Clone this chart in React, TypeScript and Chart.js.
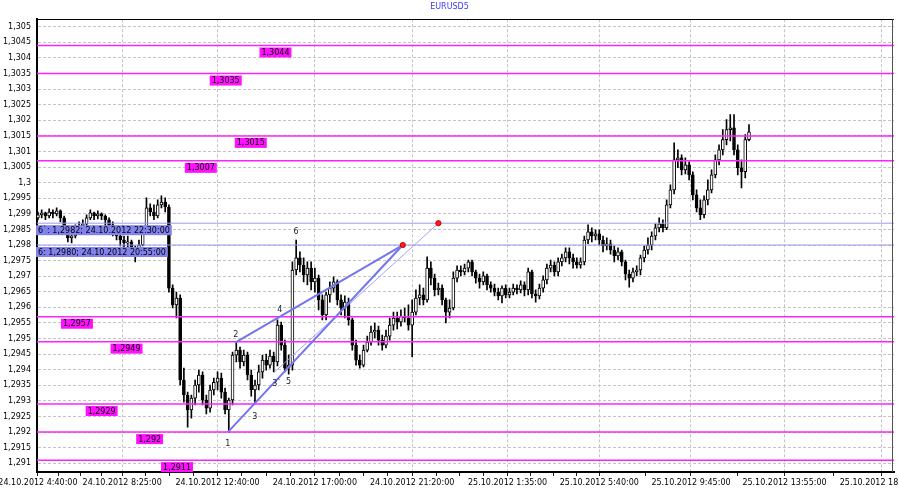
import React, { useEffect, useRef } from "react";
import { Chart, registerables } from "chart.js";

Chart.register(...registerables);

const TITLE = "EURUSD5";
const FONT = '"DejaVu Sans", sans-serif';

// each candle covers two 5-minute bars
const CANDLE_STEP_BARS = 2;

const OPENS = [
  1.29887, 1.29897, 1.29903, 1.29893, 1.29906, 1.299, 1.2991, 1.29887, 1.29855, 1.29823,
  1.29829, 1.29855, 1.29861, 1.29868, 1.29887, 1.29903, 1.29893, 1.299, 1.29893, 1.29881,
  1.29865, 1.29849, 1.29829, 1.29816, 1.29807, 1.2981, 1.29784, 1.29768, 1.298, 1.29842,
  1.29919, 1.29906, 1.29893, 1.29929, 1.29938, 1.29922, 1.29662, 1.29608, 1.2963, 1.29367,
  1.29319, 1.29271, 1.29309, 1.29351, 1.29383, 1.29303, 1.29277, 1.29335, 1.2936, 1.29373,
  1.29328, 1.29271, 1.29303, 1.29447, 1.29463, 1.29425, 1.29447, 1.29383, 1.29335, 1.29351,
  1.29393, 1.29431, 1.29415, 1.29444, 1.29425, 1.29543, 1.29479, 1.29405, 1.29415, 1.2972,
  1.29759, 1.29736, 1.29704, 1.29726, 1.29682, 1.29694, 1.29624, 1.29576, 1.2964, 1.29662,
  1.29682, 1.29624, 1.29598, 1.29617, 1.2956, 1.29479, 1.29431, 1.29415, 1.29463, 1.29489,
  1.29521, 1.29527, 1.29495, 1.29479, 1.29508, 1.29543, 1.29566, 1.29553, 1.29572, 1.29566,
  1.29543, 1.29585, 1.2963, 1.2964, 1.29624, 1.29726, 1.29694, 1.29656, 1.29662, 1.29624,
  1.29585, 1.29598, 1.29694, 1.2972, 1.29714, 1.29726, 1.29746, 1.29714, 1.29694, 1.29682,
  1.29701, 1.29672, 1.29662, 1.29649, 1.29637, 1.29662, 1.2964, 1.29649, 1.29662, 1.29656,
  1.29672, 1.29656, 1.29714, 1.29643, 1.29637, 1.29662, 1.29688, 1.29726, 1.29736, 1.29714,
  1.29746, 1.29759, 1.29778, 1.29759, 1.29746, 1.29736, 1.29746, 1.29816, 1.29842, 1.29829,
  1.29836, 1.29816, 1.29797, 1.29804, 1.29784, 1.29765, 1.29778, 1.29746, 1.29707, 1.29694,
  1.29714, 1.2972, 1.29759, 1.29784, 1.298, 1.29829, 1.29855, 1.29868, 1.29855, 1.29929,
  1.29977, 1.30073, 1.3008, 1.30041, 1.30057, 1.30025, 1.29961, 1.29919, 1.29897, 1.29945,
  1.29977, 1.30025, 1.30073, 1.30105, 1.30138, 1.3017, 1.30176, 1.30105, 1.30048, 1.30035,
  1.30138,
];

const HIGHS = [
  1.29906, 1.29913, 1.29906, 1.29916, 1.29913, 1.29919, 1.29913, 1.29893, 1.29861, 1.29842,
  1.29865, 1.29874, 1.29881, 1.29897, 1.29913, 1.29906, 1.2991, 1.29903, 1.29897, 1.29887,
  1.29874, 1.29855, 1.29842, 1.29829, 1.29829, 1.29816, 1.29797, 1.29816, 1.29855, 1.29951,
  1.29932, 1.29929, 1.29945, 1.29958, 1.29951, 1.29929, 1.29672, 1.29649, 1.2964, 1.29405,
  1.29328, 1.29319, 1.29367, 1.29399, 1.29393, 1.29319, 1.29351, 1.29373, 1.29393, 1.29389,
  1.29341, 1.29309, 1.29457, 1.29486, 1.29473, 1.29463, 1.29457, 1.29399, 1.29367, 1.29415,
  1.29447, 1.2945, 1.29463, 1.29457, 1.2956, 1.29553, 1.29495, 1.29447, 1.29746, 1.29816,
  1.29778, 1.29759, 1.29746, 1.29746, 1.29726, 1.29704, 1.2964, 1.29649, 1.29682, 1.29698,
  1.29688, 1.2964, 1.29637, 1.2963, 1.29566, 1.29495, 1.29447, 1.29479, 1.29508, 1.2954,
  1.2955, 1.2954, 1.29511, 1.29527, 1.29566, 1.29585, 1.29585, 1.29592, 1.29598, 1.29608,
  1.29624, 1.29656, 1.29672, 1.29662, 1.29762, 1.29746, 1.29707, 1.29678, 1.29672, 1.2963,
  1.29624, 1.29714, 1.29733, 1.29733, 1.29739, 1.29752, 1.29752, 1.2972, 1.29707, 1.29714,
  1.29707, 1.29682, 1.29675, 1.29662, 1.29669, 1.29672, 1.29662, 1.29675, 1.29672, 1.29685,
  1.29682, 1.29726, 1.2972, 1.29656, 1.29675, 1.29701, 1.29739, 1.29752, 1.29746, 1.29759,
  1.29771, 1.29791, 1.29791, 1.29771, 1.29759, 1.29759, 1.29829, 1.29865, 1.29855, 1.29849,
  1.29849, 1.29829, 1.29823, 1.29816, 1.29797, 1.29791, 1.29784, 1.29752, 1.2972, 1.29726,
  1.29733, 1.29768, 1.29797, 1.29823, 1.29842, 1.29868, 1.29887, 1.29881, 1.29945, 1.29993,
  1.30128, 1.30105, 1.30089, 1.3008, 1.30067, 1.30035, 1.29977, 1.29945, 1.29958, 1.30009,
  1.30041, 1.30089, 1.30121, 1.3017, 1.30202, 1.30218, 1.30218, 1.30121, 1.30073, 1.30154,
  1.30186,
];

const LOWS = [
  1.29881, 1.29887, 1.29881, 1.29887, 1.29887, 1.29893, 1.29874, 1.29842, 1.2981, 1.29807,
  1.29823, 1.29849, 1.29842, 1.29855, 1.29881, 1.29881, 1.29884, 1.29881, 1.29861, 1.29849,
  1.29829, 1.29816, 1.29797, 1.29784, 1.29791, 1.29768, 1.29746, 1.29765, 1.29797, 1.29836,
  1.29893, 1.29881, 1.29887, 1.29919, 1.29906, 1.29649, 1.29598, 1.29566, 1.29351, 1.29296,
  1.29216, 1.29245, 1.29287, 1.29328, 1.29287, 1.29258, 1.29264, 1.29319, 1.29335, 1.29309,
  1.29258, 1.292, 1.29287, 1.29425, 1.29405, 1.29412, 1.29367, 1.29315, 1.29293, 1.29335,
  1.29373, 1.29399, 1.29405, 1.29393, 1.29412, 1.29463, 1.29393, 1.29386, 1.29399, 1.29704,
  1.29714, 1.29682, 1.29672, 1.29656, 1.29649, 1.29592, 1.2956, 1.2956, 1.29617, 1.29649,
  1.29608, 1.29576, 1.29566, 1.29543, 1.29463, 1.29415, 1.29405, 1.29409, 1.29457, 1.29479,
  1.29502, 1.29479, 1.29463, 1.2947, 1.29495, 1.29527, 1.29531, 1.2954, 1.29553, 1.29527,
  1.29441, 1.29576, 1.29608, 1.29608, 1.29617, 1.29672, 1.29637, 1.2964, 1.29608, 1.2955,
  1.29566, 1.29592, 1.29682, 1.29701, 1.29704, 1.29714, 1.29701, 1.29678, 1.29662, 1.29672,
  1.29656, 1.29649, 1.29637, 1.29624, 1.29614, 1.2963, 1.2963, 1.2964, 1.29643, 1.29646,
  1.29637, 1.2964, 1.2963, 1.29617, 1.29627, 1.29649, 1.29675, 1.29714, 1.29701, 1.29701,
  1.29733, 1.29746, 1.29739, 1.29726, 1.29726, 1.29726, 1.29736, 1.29804, 1.2981, 1.29816,
  1.298, 1.29778, 1.29784, 1.29771, 1.29746, 1.29752, 1.29733, 1.29688, 1.29665, 1.29682,
  1.29701, 1.29704, 1.29746, 1.29771, 1.29784, 1.29816, 1.29842, 1.29842, 1.29849, 1.29919,
  1.29964, 1.30048, 1.30025, 1.30028, 1.30009, 1.29945, 1.29906, 1.29881, 1.29887, 1.29929,
  1.29967, 1.30015, 1.30057, 1.30089, 1.30121, 1.30134, 1.30089, 1.30025, 1.29983, 1.30015,
  1.30134,
];

const CLOSES = [
  1.29897, 1.29903, 1.29893, 1.29906, 1.299, 1.2991, 1.29887, 1.29855, 1.29823, 1.29829,
  1.29855, 1.29861, 1.29868, 1.29887, 1.29903, 1.29893, 1.299, 1.29893, 1.29881, 1.29865,
  1.29849, 1.29829, 1.29816, 1.29807, 1.2981, 1.29784, 1.29768, 1.298, 1.29842, 1.29919,
  1.29906, 1.29893, 1.29929, 1.29938, 1.29922, 1.29662, 1.29608, 1.2963, 1.29367, 1.29319,
  1.29271, 1.29309, 1.29351, 1.29383, 1.29303, 1.29277, 1.29335, 1.2936, 1.29373, 1.29328,
  1.29271, 1.29303, 1.29447, 1.29463, 1.29425, 1.29447, 1.29383, 1.29335, 1.29351, 1.29393,
  1.29431, 1.29415, 1.29444, 1.29425, 1.29543, 1.29479, 1.29405, 1.29415, 1.2972, 1.29759,
  1.29736, 1.29704, 1.29726, 1.29682, 1.29694, 1.29624, 1.29576, 1.2964, 1.29662, 1.29682,
  1.29624, 1.29598, 1.29617, 1.2956, 1.29479, 1.29431, 1.29415, 1.29463, 1.29489, 1.29521,
  1.29527, 1.29495, 1.29479, 1.29508, 1.29543, 1.29566, 1.29553, 1.29572, 1.29566, 1.29543,
  1.29585, 1.2963, 1.2964, 1.29624, 1.29726, 1.29694, 1.29656, 1.29662, 1.29624, 1.29585,
  1.29598, 1.29694, 1.2972, 1.29714, 1.29726, 1.29746, 1.29714, 1.29694, 1.29682, 1.29701,
  1.29672, 1.29662, 1.29649, 1.29637, 1.29662, 1.2964, 1.29649, 1.29662, 1.29656, 1.29672,
  1.29656, 1.29714, 1.29643, 1.29637, 1.29662, 1.29688, 1.29726, 1.29736, 1.29714, 1.29746,
  1.29759, 1.29778, 1.29759, 1.29746, 1.29736, 1.29746, 1.29816, 1.29842, 1.29829, 1.29836,
  1.29816, 1.29797, 1.29804, 1.29784, 1.29765, 1.29778, 1.29746, 1.29707, 1.29694, 1.29714,
  1.2972, 1.29759, 1.29784, 1.298, 1.29829, 1.29855, 1.29868, 1.29855, 1.29929, 1.29977,
  1.30073, 1.3008, 1.30041, 1.30057, 1.30025, 1.29961, 1.29919, 1.29897, 1.29945, 1.29977,
  1.30025, 1.30073, 1.30105, 1.30138, 1.3017, 1.30176, 1.30105, 1.30048, 1.30035, 1.30138,
  1.30163,
];

// x axis in 5-minute bar units since 24.10.2012 4:40
const X_MIN = -0.5;
const X_MAX = 457.5;
const X_TICK_BARS = [0, 45, 96, 148, 200, 251, 300, 349, 399, 451];
const X_TICK_LABELS = [
  "24.10.2012 4:40:00",
  "24.10.2012 8:25:00",
  "24.10.2012 12:40:00",
  "24.10.2012 17:00:00",
  "24.10.2012 21:20:00",
  "25.10.2012 1:35:00",
  "25.10.2012 5:40:00",
  "25.10.2012 9:45:00",
  "25.10.2012 13:55:00",
  "25.10.2012 18:05:00",
];
const X_MINOR_TICK_BARS = [
  11.25, 22.5, 33.75, 57.75, 70.5, 83.25, 109, 122, 135, 161, 174, 187,
  212.75, 225.5, 238.25, 263.25, 275.5, 287.75, 324.5, 374, 425,
];

const Y_MIN = 1.29072;
const Y_MAX = 1.30524;
const Y_TICKS = [
  1.291, 1.2915, 1.292, 1.2925, 1.293, 1.2935, 1.294, 1.2945, 1.295, 1.2955,
  1.296, 1.2965, 1.297, 1.2975, 1.298, 1.2985, 1.299, 1.2995, 1.3, 1.3005,
  1.301, 1.3015, 1.302, 1.3025, 1.303, 1.3035, 1.304, 1.3045, 1.305,
];

// magenta levels and where their price tag sits (bar units)
const LEVELS = [1.3044, 1.3035, 1.3015, 1.3007, 1.2957, 1.2949, 1.2929, 1.292, 1.2911];
const LEVEL_LABEL_BARS = [118.4, 91.8, 105.2, 78.5, 12.3, 38.8, 25.5, 52.5, 65.8];

// blue marker levels
const MARK_LEVELS = [1.2987, 1.298];
const MARK_LABELS = ["6`: 1,2982; 24.10.2012 22:30:00", "6: 1,2980; 24.10.2012 20:55:00"];
const MARK_POINT_BARS = [214, 195];

// trend lines
const TREND_FROM_BARS = [105.2, 101.5, 126.5];
const TREND_FROM_PRICES = [1.29486, 1.292, 1.29393];
const TREND_TO_BARS = [195, 195, 214];
const TREND_TO_PRICES = [1.298, 1.298, 1.2987];
const TREND_WIDTHS = [2, 2, 1];
const TREND_COLORS = ["#7474ee", "#7474ee", "#a4a4f4"];

// wave labels
const WAVE_NAMES = ["1", "2", "3", "3`", "4", "5", "6"];
const WAVE_BARS = [101.5, 105.8, 115.9, 127.6, 129.2, 133.9, 137.9];
const WAVE_PRICES = [1.29161, 1.29511, 1.29248, 1.29354, 1.29592, 1.2936, 1.29842];

function fmtPrice(v: number): string {
  let s = v.toFixed(4);
  s = s.replace(/0+$/, "").replace(/\.$/, "");
  return s.replace(".", ",");
}

const overlayPlugin = {
  id: "overlay",
  afterDatasetsDraw(chart: any) {
    const { ctx, chartArea, scales } = chart;
    const x = scales.x;
    const y = scales.y;
    ctx.save();
    // frame top and right
    ctx.lineWidth = 1;
    ctx.strokeStyle = "#000";
    ctx.beginPath();
    ctx.moveTo(chartArea.left, Math.round(chartArea.top) + 0.5);
    ctx.lineTo(chartArea.right, Math.round(chartArea.top) + 0.5);
    ctx.stroke();
    ctx.strokeStyle = "#505050";
    ctx.beginPath();
    ctx.moveTo(chartArea.right - 1.5, chartArea.top);
    ctx.lineTo(chartArea.right - 1.5, chartArea.bottom);
    ctx.stroke();

    ctx.font = `8px ${FONT}`;
    ctx.textBaseline = "middle";
    ctx.textAlign = "left";

    // magenta price tags
    LEVELS.forEach((v, i) => {
      const text = fmtPrice(v);
      const w = ctx.measureText(text).width + 4;
      const px = x.getPixelForValue(LEVEL_LABEL_BARS[i]);
      const py = y.getPixelForValue(v) + 2;
      ctx.fillStyle = "#ff10ff";
      ctx.fillRect(px, py, w, 10);
      ctx.fillStyle = "#000";
      ctx.fillText(text, px + 2, py + 5.5);
    });

    // blue marker tags
    MARK_LEVELS.forEach((v, i) => {
      const text = MARK_LABELS[i];
      const w = ctx.measureText(text).width + 4;
      const px = chartArea.left - 1;
      const py = y.getPixelForValue(v) + 2;
      ctx.fillStyle = "#8282ee";
      ctx.fillRect(px, py, w, 10);
      ctx.fillStyle = "#000";
      ctx.fillText(text, px + 2, py + 5.5);
    });

    // wave numbers
    ctx.textAlign = "center";
    ctx.fillStyle = "#222";
    WAVE_NAMES.forEach((t, i) => {
      ctx.fillText(t, x.getPixelForValue(WAVE_BARS[i]), y.getPixelForValue(WAVE_PRICES[i]));
    });
    ctx.restore();
  },
};

export default function App() {
  const canvasRef = useRef<HTMLCanvasElement | null>(null);

  useEffect(() => {
    const canvas = canvasRef.current;
    if (!canvas) return;

    const candleX = OPENS.map((_, i) => i * CANDLE_STEP_BARS);
    const wicks = candleX.map((xv, i) => ({ x: xv, y: [LOWS[i], HIGHS[i]] }));
    const bodies = candleX.map((xv, i) => ({ x: xv, y: [OPENS[i], CLOSES[i]] }));
    const bodyColors = candleX.map((_, i) => (CLOSES[i] >= OPENS[i] ? "#ffffff" : "#000000"));

    const datasets: any[] = [];
    datasets.push({
      type: "bar",
      data: wicks,
      backgroundColor: "#000",
      borderWidth: 0,
      barThickness: 1,
      grouped: false,
      order: 10,
    });
    datasets.push({
      type: "bar",
      data: bodies,
      backgroundColor: bodyColors,
      borderColor: "#000",
      borderWidth: 1,
      borderSkipped: false,
      barThickness: 3,
      minBarLength: 1,
      grouped: false,
      order: 9,
    });
    LEVELS.forEach((v) => {
      datasets.push({
        type: "line",
        data: [
          { x: X_MIN, y: v },
          { x: X_MAX, y: v },
        ],
        borderColor: "#ff22ff",
        borderWidth: 1.5,
        pointRadius: 0,
        fill: false,
        order: 5,
      });
    });
    MARK_LEVELS.forEach((v) => {
      datasets.push({
        type: "line",
        data: [
          { x: X_MIN, y: v },
          { x: X_MAX, y: v },
        ],
        borderColor: "#9a9af2",
        borderWidth: 1,
        pointRadius: 0,
        fill: false,
        order: 4,
      });
    });
    TREND_FROM_BARS.forEach((xb, i) => {
      datasets.push({
        type: "line",
        data: [
          { x: xb, y: TREND_FROM_PRICES[i] },
          { x: TREND_TO_BARS[i], y: TREND_TO_PRICES[i] },
        ],
        borderColor: TREND_COLORS[i],
        borderWidth: TREND_WIDTHS[i],
        pointRadius: 0,
        fill: false,
        order: 2,
      });
    });
    datasets.push({
      type: "line",
      data: MARK_POINT_BARS.map((xb, i) => ({ x: xb, y: MARK_LEVELS[i] })),
      showLine: false,
      pointRadius: 2.6,
      pointBackgroundColor: "#ff1a1a",
      pointBorderColor: "#d00000",
      pointBorderWidth: 1,
      order: 1,
    });

    const chart = new Chart(canvas, {
      type: "bar",
      data: { datasets },
      plugins: [overlayPlugin],
      options: {
        animation: false,
        responsive: false,
        events: [],
        layout: { padding: 0 },
        plugins: {
          legend: { display: false },
          tooltip: { enabled: false },
          title: {
            display: true,
            text: TITLE,
            color: "#3a3aff",
            font: { family: FONT, size: 8, weight: "normal" },
            padding: { top: 2, bottom: 7.7 },
          },
        },
        scales: {
          x: {
            type: "linear",
            min: X_MIN,
            max: X_MAX,
            offset: false,
            afterBuildTicks: (scale: any) => {
              const all = [...X_TICK_BARS, ...X_MINOR_TICK_BARS].sort((a, b) => a - b);
              scale.ticks = all.map((v) => ({ value: v }));
            },
            afterFit: (scale: any) => {
              scale.height = 18;
              scale.paddingLeft = 0;
              scale.paddingRight = 0;
            },
            ticks: {
              autoSkip: false,
              maxRotation: 0,
              minRotation: 0,
              padding: 2,
              color: "#000",
              font: { family: FONT, size: 8 },
              callback: (value: any) => {
                const k = X_TICK_BARS.indexOf(Number(value));
                return k >= 0 ? X_TICK_LABELS[k] : "";
              },
            },
            grid: {
              offset: false,
              drawTicks: true,
              tickLength: 4,
              tickColor: "#202020",
              tickWidth: 1,
              lineWidth: 1,
              color: (c: any) =>
                c.tick && X_TICK_BARS.indexOf(c.tick.value) >= 0 ? "#c4c4c4" : "rgba(0,0,0,0)",
            },
            border: { display: true, color: "#000", width: 2, dash: [3, 2] },
          },
          y: {
            type: "linear",
            min: Y_MIN,
            max: Y_MAX,
            afterBuildTicks: (scale: any) => {
              scale.ticks = Y_TICKS.map((v) => ({ value: v }));
            },
            afterFit: (scale: any) => {
              scale.width = 37;
              scale.paddingTop = 0;
              scale.paddingBottom = 0;
            },
            ticks: {
              autoSkip: false,
              padding: 6,
              color: "#000",
              font: { family: FONT, size: 8 },
              callback: (value: any) => fmtPrice(Number(value)),
            },
            grid: {
              drawTicks: false,
              color: "#c4c4c4",
              lineWidth: 1,
            },
            border: { display: true, color: "#000", width: 2, dash: [3, 2] },
          },
        },
      } as any,
    } as any);

    return () => {
      chart.destroy();
    };
  }, []);

  return (
    <div style={{ position: "absolute", left: 0, top: 0, width: 899, height: 490, background: "#fff" }}>
      <canvas ref={canvasRef} width={899} height={490} style={{ width: 899, height: 490, display: "block" }} />
    </div>
  );
}
